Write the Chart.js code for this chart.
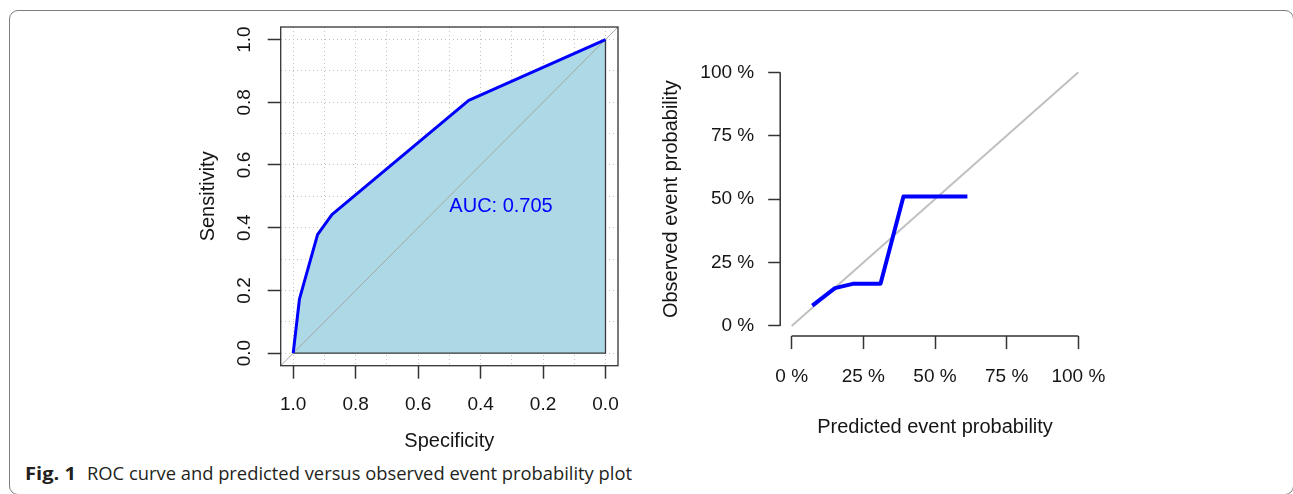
<!DOCTYPE html>
<html>
<head>
<meta charset="utf-8">
<script src="https://cdn.jsdelivr.net/npm/chart.js@4/dist/chart.umd.min.js"></script>
<style>
html,body{margin:0;padding:0;background:#fff;}
body{width:1293px;height:494px;overflow:hidden;position:relative;}
#frame{position:absolute;left:9px;top:10px;width:1285px;height:485px;border:1.5px solid #7d7d7d;border-radius:9px;box-sizing:border-box;}
#c1{position:absolute;left:190px;top:20px;}
#c2{position:absolute;left:650px;top:40px;}
.cap{position:absolute;top:464px;font-family:'Open Sans',sans-serif;font-size:18.5px;line-height:1;color:#231f20;white-space:nowrap;transform-origin:0 0;}
#capB{left:25px;font-weight:700;}
#capT{left:87px;font-weight:400;}
</style>
</head>
<body>
<div id="frame"></div>
<canvas id="c1" width="440" height="440"></canvas>
<canvas id="c2" width="460" height="420"></canvas>
<div class="cap" id="capB">Fig. 1</div>
<div class="cap" id="capT">ROC curve and predicted versus observed event probability plot</div>
<script>
// ---------- data ----------
const ROC_SPEC = [1.0, 0.98, 0.922, 0.876, 0.438, 0.0];
const ROC_SENS = [0.0, 0.172, 0.378, 0.442, 0.806, 1.0];
const AREA_BASE_SPEC = [0.0, 1.0];
const AREA_BASE_SENS = [0.0, 0.0];
const ROC_GRID_TICKS = [0, 0.1, 0.2, 0.3, 0.4, 0.5, 0.6, 0.7, 0.8, 0.9, 1.0];
const ROC_LABEL_TICKS = [0, 0.2, 0.4, 0.6, 0.8, 1.0];
const AUC_TEXT = 'AUC: 0.705';
const AUC_POS = [0.5, 0.5];
const AXIS_MIN = -0.04, AXIS_MAX = 1.04;

const CAL_PRED = [0.072, 0.151, 0.213, 0.310, 0.390, 0.613];
const CAL_OBS  = [0.080, 0.149, 0.166, 0.166, 0.510, 0.510];
const CAL_TICKS = [0, 0.25, 0.5, 0.75, 1.0];
const IDEAL = [0, 1];

// ---------- helpers ----------
const FONT = "'Liberation Sans', Arial, sans-serif";
const TXT = '#151515';
const isLabelTick = v => ROC_LABEL_TICKS.some(t => Math.abs(t - v) < 1e-6);
const pts = (xs, ys) => xs.map((x, i) => ({x, y: ys[i]}));
const noPad = s => { s.paddingLeft = 0; s.paddingRight = 0; s.paddingTop = 0; s.paddingBottom = 0; };

const rocPts = pts(ROC_SPEC, ROC_SENS);
const areaPts = rocPts.concat(pts(AREA_BASE_SPEC, AREA_BASE_SENS));

const rocPlugin = {
  id: 'rocExtras',
  afterDatasetsDraw(chart) {
    const {ctx, chartArea: a, scales: {x, y}} = chart;
    ctx.save();
    ctx.strokeStyle = '#333';
    ctx.lineWidth = 1.3;
    ctx.strokeRect(a.left, a.top, a.right - a.left, a.bottom - a.top);
    ctx.font = '20px ' + FONT;
    ctx.fillStyle = '#0000ff';
    ctx.textAlign = 'left';
    ctx.textBaseline = 'alphabetic';
    ctx.fillText(AUC_TEXT, x.getPixelForValue(AUC_POS[0]), y.getPixelForValue(AUC_POS[1]) + 16);
    ctx.restore();
  }
};

new Chart(document.getElementById('c1'), {
  type: 'scatter',
  data: {
    datasets: [
      {data: rocPts, showLine: true, borderColor: '#0000ff', borderWidth: 3, pointRadius: 0, fill: false, borderJoinStyle: 'round', tension: 0},
      {data: [{x: AXIS_MAX, y: 1 - AXIS_MAX}, {x: AXIS_MIN, y: 1 - AXIS_MIN}], showLine: true, borderColor: '#a6a6a6', borderWidth: 1, pointRadius: 0, fill: false},
      {data: areaPts, showLine: true, borderColor: '#3a3a3a', borderWidth: 1.3, backgroundColor: '#add8e6', pointRadius: 0, fill: 'shape', tension: 0}
    ]
  },
  options: {
    responsive: false, animation: false, devicePixelRatio: 1,
    layout: {padding: {left: 0, top: 7, right: 12, bottom: 0}},
    plugins: {legend: {display: false}, tooltip: {enabled: false}},
    scales: {
      x: {
        type: 'linear', min: AXIS_MIN, max: AXIS_MAX, reverse: true,
        afterBuildTicks: s => { s.ticks = ROC_GRID_TICKS.map(v => ({value: v})); },
        afterFit: s => { s.height = 94.3; noPad(s); },
        grid: {color: '#c2c2c2', lineWidth: 1, tickLength: 13, tickWidth: 1.5,
               tickColor: c => isLabelTick(c.tick.value) ? '#333' : 'rgba(0,0,0,0)'},
        border: {display: false, dash: [1, 3]},
        ticks: {autoSkip: false, minRotation: 0, maxRotation: 0, padding: 15, color: TXT,
                font: {family: FONT, size: 19},
                callback: v => isLabelTick(v) ? v.toFixed(1) : ''},
        title: {display: true, text: 'Specificity', color: TXT, font: {family: FONT, size: 20}, padding: {top: 0, bottom: 6.5}}
      },
      y: {
        type: 'linear', min: AXIS_MIN, max: AXIS_MAX,
        afterBuildTicks: s => { s.ticks = ROC_GRID_TICKS.map(v => ({value: v})); },
        afterFit: s => { s.width = 90.7; noPad(s); },
        grid: {color: '#c2c2c2', lineWidth: 1, tickLength: 13, tickWidth: 1.5,
               tickColor: c => isLabelTick(c.tick.value) ? '#333' : 'rgba(0,0,0,0)'},
        border: {display: false, dash: [1, 3]},
        ticks: {autoSkip: false, minRotation: 90, maxRotation: 90, crossAlign: 'center', padding: 10, color: TXT,
                font: {family: FONT, size: 19},
                callback: v => isLabelTick(v) ? v.toFixed(1) : ''},
        title: {display: true, text: 'Sensitivity', color: TXT, font: {family: FONT, size: 20}, padding: {top: 6, bottom: 0}}
      }
    }
  },
  plugins: [rocPlugin]
});

const calAxes = {
  id: 'calAxes',
  afterDraw(chart) {
    const {ctx, chartArea: a, scales: {x, y}} = chart;
    ctx.save();
    ctx.strokeStyle = '#333';
    ctx.lineWidth = 1.5;
    ctx.beginPath();
    ctx.moveTo(x.getPixelForValue(CAL_TICKS[0]), a.bottom);
    ctx.lineTo(x.getPixelForValue(CAL_TICKS[CAL_TICKS.length - 1]), a.bottom);
    ctx.moveTo(a.left, y.getPixelForValue(CAL_TICKS[0]));
    ctx.lineTo(a.left, y.getPixelForValue(CAL_TICKS[CAL_TICKS.length - 1]));
    ctx.stroke();
    ctx.restore();
  }
};

const pct = v => Math.round(v * 100) + ' %';

new Chart(document.getElementById('c2'), {
  type: 'scatter',
  data: {
    datasets: [
      {data: pts(CAL_PRED, CAL_OBS), showLine: true, borderColor: '#0000ff', borderWidth: 4, pointRadius: 0, fill: false, borderJoinStyle: 'round', tension: 0},
      {data: pts(IDEAL, IDEAL), showLine: true, borderColor: '#c0c0c0', borderWidth: 2, pointRadius: 0, fill: false}
    ]
  },
  options: {
    responsive: false, animation: false, devicePixelRatio: 1,
    layout: {padding: {left: 0, top: 22.2, right: 20.2, bottom: 0}},
    plugins: {legend: {display: false}, tooltip: {enabled: false}},
    scales: {
      x: {
        type: 'linear', min: AXIS_MIN, max: AXIS_MAX,
        afterBuildTicks: s => { s.ticks = CAL_TICKS.map(v => ({value: v})); },
        afterFit: s => { s.height = 123.9; noPad(s); },
        grid: {drawOnChartArea: false, tickLength: 13, tickWidth: 1.5, tickColor: '#333'},
        border: {display: false},
        ticks: {autoSkip: false, minRotation: 0, maxRotation: 0, padding: 16, color: TXT,
                font: {family: FONT, size: 19}, callback: pct},
        title: {display: true, text: 'Predicted event probability', color: TXT, font: {family: FONT, size: 20}, padding: {top: 0, bottom: 20.3}}
      },
      y: {
        type: 'linear', min: AXIS_MIN, max: AXIS_MAX,
        afterBuildTicks: s => { s.ticks = CAL_TICKS.map(v => ({value: v})); },
        afterFit: s => { s.width = 130.2; noPad(s); },
        grid: {drawOnChartArea: false, tickLength: 12, tickWidth: 1.5, tickColor: '#333'},
        border: {display: false},
        ticks: {autoSkip: false, padding: 14, color: TXT, font: {family: FONT, size: 19}, callback: pct},
        title: {display: true, text: 'Observed event probability', color: TXT, font: {family: FONT, size: 20}, padding: {top: 9.7, bottom: 0}}
      }
    }
  },
  plugins: [calAxes]
});

// caption width fitting
function fitWidth(id, w) {
  const el = document.getElementById(id);
  const r = el.getBoundingClientRect().width;
  el.style.transform = 'scaleX(' + (w / r) + ')';
}
fitWidth('capB', 51);
fitWidth('capT', 545);
</script>
</body>
</html>
